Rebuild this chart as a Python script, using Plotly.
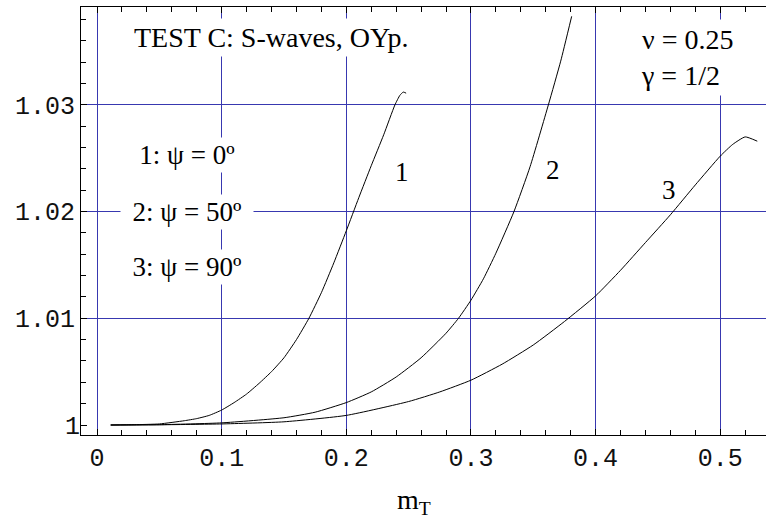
import plotly.graph_objects as go

# ---- data ----
x1 = [0.011, 0.03, 0.05, 0.07, 0.08, 0.09, 0.10, 0.11, 0.12, 0.13, 0.14, 0.15, 0.16, 0.17, 0.18, 0.19, 0.20, 0.21, 0.22, 0.23, 0.239, 0.243, 0.2457, 0.248]
y1 = [1.0000, 1.00003, 1.0001, 1.0004, 1.0006, 1.0009, 1.0014, 1.0021, 1.0029, 1.0039, 1.0050, 1.0063, 1.0080, 1.0100, 1.0124, 1.0152, 1.0182, 1.0213, 1.0243, 1.0272, 1.0300, 1.0309, 1.0312, 1.0311]

x2 = [0.011, 0.05, 0.10, 0.15, 0.175, 0.20, 0.22, 0.24, 0.26, 0.28, 0.29, 0.30, 0.31, 0.32, 0.3345, 0.3474, 0.3621, 0.372, 0.3808]
y2 = [1.0000, 1.00003, 1.0002, 1.00068, 1.0012, 1.0021, 1.0031, 1.0045, 1.0063, 1.0086, 1.0100, 1.0117, 1.0137, 1.0161, 1.0200, 1.0242, 1.0300, 1.0341, 1.0383]

x3 = [0.011, 0.05, 0.10, 0.15, 0.20, 0.25, 0.275, 0.30, 0.325, 0.35, 0.375, 0.40, 0.42, 0.44, 0.46, 0.48, 0.50, 0.51, 0.52, 0.5297]
y3 = [1.0000, 1.00002, 1.0001, 1.0003, 1.0009, 1.0022, 1.0031, 1.0042, 1.0057, 1.0075, 1.0097, 1.0121, 1.0145, 1.0171, 1.0197, 1.0225, 1.0252, 1.0263, 1.0270, 1.0266]

x_ticks = [0, 0.1, 0.2, 0.3, 0.4, 0.5]
x_ticklabels = ["0", "0.1", "0.2", "0.3", "0.4", "0.5"]
y_grid_ticks = [1.01, 1.02, 1.03]
y_grid_labels = ["1.01", "1.02", "1.03"]
y_base_tick = [1.0]
y_base_label = ["1"]

curve_labels = ["1", "2", "3"]
curve_label_x = [0.2444, 0.3661, 0.4591]
curve_label_y = [1.0237, 1.0239, 1.0220]

legend_texts = ["1: ψ = 0º", "2: ψ = 50º", "3: ψ = 90º"]
legend_y = [1.0253, 1.0200, 1.0148]

SERIF = "Times New Roman, Liberation Serif, serif"
MONO = "Courier New, Liberation Mono, monospace"
GRID = "#3838b0"
YRANGE = [0.999063, 1.039175]
TICKFONT = dict(family=MONO, size=25, color="#111111")

# minor tick positions (skip those that coincide with major ticks)
x_minor = [round(i * 0.02, 2) for i in range(0, 27) if i % 5 != 0]
y_minor = [round(1 + i * 0.002, 3) for i in range(0, 20) if i % 5 != 0]

fig = go.Figure()
for xs, ys in [(x1, y1), (x2, y2), (x3, y3)]:
    fig.add_trace(go.Scatter(x=xs, y=ys, mode="lines",
                             line=dict(color="black", width=1, shape="spline", smoothing=0.5),
                             showlegend=False, hoverinfo="skip"))
# invisible companion trace so the overlaying axis (label "1", no grid line) is drawn
fig.add_trace(go.Scatter(x=x1, y=y1, yaxis="y2", mode="lines", opacity=0,
                         showlegend=False, hoverinfo="skip"))

annotations = []
for t, xx, yy in zip(curve_labels, curve_label_x, curve_label_y):
    annotations.append(dict(x=xx, y=yy, xref="x", yref="y", text=t, showarrow=False,
                            font=dict(family=SERIF, size=27, color="black")))
for t, yy in zip(legend_texts, legend_y):
    annotations.append(dict(x=0.0722, y=yy, xref="x", yref="y", text=t, showarrow=False,
                            font=dict(family=SERIF, size=27, color="black"),
                            bgcolor="white", width=128, borderpad=2, align="center"))
annotations.append(dict(x=0.1396, y=1.0363, xref="x", yref="y", text="TEST C: S-waves, OYp.",
                        showarrow=False, font=dict(family=SERIF, size=28, color="black"),
                        bgcolor="white", borderpad=3))
annotations.append(dict(x=0.4324, y=1.0344, xref="x", yref="y", xanchor="left",
                        text="ν = 0.25<br>γ = 1/2", align="left", showarrow=False,
                        font=dict(family=SERIF, size=28, color="black"),
                        bgcolor="white", borderpad=4))
annotations.append(dict(x=0.254, y=-0.2, xref="x", yref="paper", text="m<sub>T</sub>",
                        showarrow=False, font=dict(family=SERIF, size=28, color="black")))

fig.update_layout(
    width=766, height=519,
    margin=dict(l=81, r=0, t=7, b=84),
    paper_bgcolor="white", plot_bgcolor="white",
    annotations=annotations,
    xaxis=dict(range=[-0.01284, 0.5367], tickvals=x_ticks, ticktext=x_ticklabels,
               showgrid=True, gridcolor=GRID, gridwidth=1, zeroline=False,
               showline=True, linecolor="black", linewidth=1, mirror="ticks",
               ticks="inside", ticklen=6, tickcolor="black",
               minor=dict(tickvals=x_minor, ticks="inside", ticklen=5, tickcolor="black",
                          showgrid=False),
               tickfont=TICKFONT),
    yaxis=dict(range=YRANGE, tickvals=y_grid_ticks, ticktext=y_grid_labels,
               showgrid=True, gridcolor=GRID, gridwidth=1, zeroline=False,
               showline=True, linecolor="black", linewidth=1, mirror=False,
               ticks="inside", ticklen=6, tickcolor="black",
               minor=dict(tickvals=y_minor, ticks="inside", ticklen=5, tickcolor="black",
                          showgrid=False),
               tickfont=TICKFONT),
    yaxis2=dict(range=YRANGE, overlaying="y", side="left", anchor="x",
                tickvals=y_base_tick, ticktext=y_base_label,
                showgrid=False, zeroline=False, showline=False,
                ticks="inside", ticklen=6, tickcolor="black",
                tickfont=TICKFONT),
)

fig.write_html("out.html")
